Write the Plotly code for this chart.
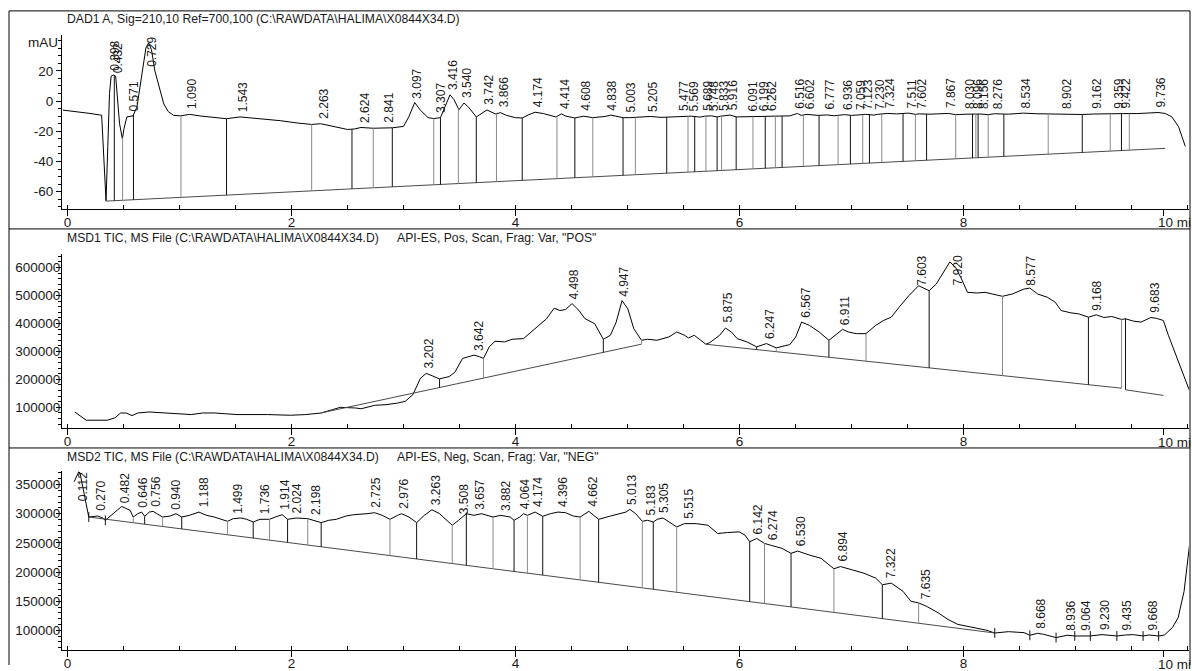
import numpy as np
import plotly.graph_objects as go

W, H = 1192, 671

# ---------------- DAD1 A (mAU) ----------------
dad_t = [-0.04, 0.10, 0.20, 0.305, 0.325, 0.344, 0.360, 0.375, 0.39, 0.41, 0.43, 0.445, 0.465, 0.49,
         0.505, 0.53, 0.56, 0.585, 0.62, 0.66, 0.70, 0.725, 0.75, 0.78, 0.82, 0.86, 0.90, 0.95, 1.01,
         1.09, 1.20, 1.30, 1.42, 1.54, 1.70, 1.90, 2.05, 2.18, 2.26, 2.35, 2.50, 2.56, 2.62, 2.73, 2.90,
         3.00, 3.05, 3.10, 3.15, 3.22, 3.27, 3.33, 3.38, 3.415, 3.45, 3.495, 3.54, 3.58, 3.65, 3.70,
         3.745, 3.79, 3.82, 3.866, 3.92, 4.00, 4.06, 4.12, 4.175, 4.25, 4.36, 4.41, 4.45, 4.53, 4.608,
         4.69, 4.80, 4.85, 4.96, 5.02, 5.10, 5.205, 5.30, 5.40, 5.477, 5.569, 5.65, 5.689, 5.748, 5.80,
         5.833, 5.916, 5.97, 6.091, 6.199, 6.262, 6.36, 6.45, 6.516, 6.55, 6.602, 6.70, 6.777, 6.85,
         6.936, 7.00, 7.059, 7.123, 7.20, 7.230, 7.324, 7.40, 7.511, 7.57, 7.602, 7.70, 7.867, 7.93,
         8.030, 8.096, 8.156, 8.22, 8.276, 8.40, 8.534, 8.65, 8.80, 8.902, 9.06, 9.162, 9.30, 9.359,
         9.422, 9.55, 9.65, 9.736, 9.80, 9.86, 9.92, 9.98]
dad_v = [-6.0, -7.0, -8.2, -9.4, -40, -66, -30, 5, 16.5, 17.2, 16.5, 5, -15, -25,
         -18, -10.5, -10, -9.8, -4, 15, 35, 38.5, 34, 20, 8, -2, -7, -9.5, -9.8,
         -8.8, -10, -10.8, -11.7, -10.5, -11.5, -13, -14.5, -15.5, -15, -16.5, -18.8, -18.5, -17.5, -18, -17.7,
         -16.8, -10, -1, -6, -11, -11.6, -11, -2, 4.1, 1, -5.7, -1.3, -4, -10.5, -8,
         -5.9, -7.5, -8.5, -7.7, -9.5, -11, -11.2, -9, -7.4, -8.3, -10.5, -8.5, -10, -11.2, -10,
         -11, -10.2, -9.3, -11, -11, -10.8, -10.2, -10.8, -10.5, -10, -10, -10.6, -10, -9.8, -10.5,
         -10, -9.3, -10.5, -10.4, -10.2, -10, -10, -9.8, -8.2, -9.5, -8.8, -9.5, -9.2, -9.7,
         -9, -9.5, -9.2, -8.8, -9.3, -8.8, -8.2, -8.5, -8, -8.8, -8.5, -8.7, -8.2, -9,
         -8.7, -8.4, -8.6, -9, -8.4, -8.7, -8.0, -8.4, -8.6, -8.8, -8.9, -8.6, -8.7, -8.5,
         -8.3, -8.3, -7.8, -7.6, -8.2, -10.5, -17, -30]
dad_base_t = [0.344, 9.80]
dad_base_v = [-66.2, -31.3]
dad_drops = [0.418, 0.492, 0.589, 1.013, 1.42, 2.18, 2.54, 2.73, 2.90, 3.27, 3.33, 3.49, 3.65, 3.83,
             4.06, 4.37, 4.53, 4.69, 4.96, 5.07, 5.35, 5.54, 5.60, 5.70, 5.80, 5.84, 5.97, 6.12, 6.23,
             6.32, 6.38, 6.57, 6.71, 6.88, 6.99, 7.10, 7.16, 7.27, 7.46, 7.57, 7.67, 7.93, 8.08, 8.11,
             8.13, 8.22, 8.36, 8.756, 9.06, 9.31, 9.41, 9.48]
dad_peaks = [0.398, 0.432, 0.571, 0.729, 1.090, 1.543, 2.263, 2.624, 2.841, 3.097, 3.307, 3.416, 3.540,
             3.742, 3.866, 4.174, 4.414, 4.608, 4.838, 5.003, 5.205, 5.477, 5.569, 5.689, 5.748, 5.833,
             5.916, 6.091, 6.199, 6.262, 6.516, 6.602, 6.777, 6.936, 7.059, 7.123, 7.230, 7.324, 7.511,
             7.602, 7.867, 8.030, 8.096, 8.156, 8.276, 8.534, 8.902, 9.162, 9.359, 9.422, 9.736]

# ---------------- MSD1 TIC (POS) ----------------
msd1_t = [0.065, 0.167, 0.355, 0.423, 0.474, 0.525, 0.576, 0.628, 0.73, 0.866, 1.037, 1.105, 1.207,
          1.31, 1.412, 1.514, 1.787, 1.992, 2.128, 2.265, 2.367, 2.435, 2.572, 2.623, 2.742, 2.844,
          2.947, 3.015, 3.083, 3.151, 3.203, 3.254, 3.322, 3.407, 3.458, 3.527, 3.629, 3.68, 3.714,
          3.765, 3.817, 3.902, 3.97, 4.072, 4.175, 4.277, 4.345, 4.396, 4.447, 4.505, 4.567, 4.618,
          4.707, 4.784, 4.847, 4.899, 4.951, 5.003, 5.056, 5.125, 5.178, 5.265, 5.369, 5.439, 5.509,
          5.544, 5.596, 5.666, 5.70, 5.735, 5.822, 5.875, 5.927, 5.979, 6.066, 6.153, 6.24, 6.328,
          6.449, 6.502, 6.554, 6.624, 6.711, 6.798, 6.868, 6.92, 6.972, 7.042, 7.129, 7.216, 7.286,
          7.355, 7.425, 7.512, 7.599, 7.693, 7.756, 7.826, 7.878, 7.93, 7.983, 8.035, 8.122, 8.192,
          8.261, 8.348, 8.436, 8.54, 8.592, 8.662, 8.749, 8.819, 8.871, 8.958, 9.028, 9.115, 9.185,
          9.254, 9.324, 9.411, 9.446, 9.516, 9.585, 9.672, 9.725, 9.784, 9.829, 10.031]
msd1_v = [83400, 53900, 53900, 62100, 79800, 79500, 70400, 79800, 83400, 79800, 76300, 74100, 79800,
          79800, 77000, 74100, 74100, 71700, 74100, 79800, 91800, 100000, 97600, 95000, 107100, 109500,
          115300, 121300, 144900, 203900, 221600, 213500, 201800, 209900, 225200, 274900, 286800, 280900, 274900,
          316300, 336500, 334000, 343600, 345900, 381300, 416800, 454600, 446400, 450000, 471100, 446300, 418000,
          399000, 343600, 357700, 405000, 481800, 452300, 381300, 339900, 343600, 339900, 351800, 369500, 358000,
          348200, 357700, 334000, 325700, 331600, 357700, 383700, 369500, 345900, 334000, 316300, 328100, 312800,
          324500, 351800, 405000, 393200, 369500, 339900, 363600, 378900, 369500, 363600, 363600, 393200, 410800,
          422700, 458200, 499700, 535000, 517300, 540900, 584700, 620200, 600000, 558700, 511400, 509000, 511400,
          505500, 497200, 505500, 523200, 526700, 505500, 493600, 475900, 446300, 438000, 434500, 422700, 430900,
          421500, 425000, 414400, 416800, 408500, 405000, 421500, 418000, 410800, 357700, 145300]
msd1_base_t = [2.265, 5.125, None, 5.70, 9.411, None, 9.446, 9.784]
msd1_base_v = [80000, 326000, None, 325700, 168400, None, 162700, 142600]
msd1_drops = [3.322, 3.714, 4.784, 5.125, 6.153, 6.328, 6.798, 7.129, 7.693, 8.348, 9.115, 9.411, 9.446]
msd1_peaks = [3.202, 3.642, 4.498, 4.947, 5.875, 6.247, 6.567, 6.911, 7.603, 7.920, 8.577, 9.168, 9.683]

# ---------------- MSD2 TIC (NEG) ----------------
msd2_t = [0.06, 0.10, 0.112, 0.15, 0.19, 0.269, 0.314, 0.338, 0.389, 0.44, 0.484, 0.559, 0.587, 0.628,
          0.662, 0.689, 0.73, 0.764, 0.849, 0.917, 0.969, 1.02, 1.088, 1.173, 1.241, 1.31, 1.429, 1.48,
          1.548, 1.6, 1.658, 1.719, 1.804, 1.855, 1.917, 1.965, 2.043, 2.145, 2.196, 2.265, 2.333, 2.401,
          2.486, 2.555, 2.674, 2.742, 2.81, 2.879, 2.947, 2.981, 3.049, 3.117, 3.186, 3.254, 3.322, 3.39,
          3.435, 3.492, 3.561, 3.629, 3.697, 3.799, 3.868, 3.953, 3.987, 4.038, 4.072, 4.106, 4.175, 4.243,
          4.311, 4.379, 4.447, 4.516, 4.577, 4.655, 4.742, 4.847, 4.986, 5.021, 5.073, 5.132, 5.178, 5.23,
          5.265, 5.317, 5.369, 5.439, 5.509, 5.613, 5.718, 5.805, 5.892, 5.997, 6.049, 6.091, 6.153, 6.223,
          6.275, 6.38, 6.46, 6.519, 6.624, 6.728, 6.843, 6.902, 7.007, 7.111, 7.216, 7.275, 7.355, 7.46,
          7.53, 7.599, 7.669, 7.774, 7.861, 7.948, 8.052, 8.122, 8.209, 8.279, 8.401, 8.54, 8.592, 8.662,
          8.714, 8.826, 8.923, 8.993, 9.132, 9.237, 9.369, 9.446, 9.516, 9.603, 9.655, 9.742, 9.794, 9.864,
          9.916, 9.969, 10.021]
msd2_v = [355000, 372000, 370000, 330000, 294400, 296100, 292700, 288800, 297300, 306000, 312600, 305800, 294400, 300100,
          302900, 295600, 302900, 304100, 294400, 296100, 300100, 294400, 297300, 302900, 297300, 294400, 287100, 291600,
          292700, 290500, 285900, 290500, 290500, 294400, 298400, 290500, 292700, 291600, 288800, 284800, 288800, 290500,
          296100, 298400, 300100, 301800, 297300, 290500, 297300, 300100, 294400, 284800, 297300, 306900, 300100, 288800,
          280300, 288800, 300100, 297300, 300100, 294400, 297300, 294400, 288800, 294400, 300100, 297300, 302900, 295600,
          300100, 302900, 301800, 296100, 294400, 304100, 290500, 296100, 302900, 307500, 300100, 287100, 288800, 285900,
          290500, 292700, 285900, 277400, 283100, 283100, 280300, 266100, 267800, 268900, 263300, 251900, 257600, 249100,
          246200, 240600, 232100, 236000, 229200, 223500, 205600, 209400, 203700, 198000, 189500, 178200, 181000, 166900,
          149900, 147000, 141300, 130000, 118700, 110200, 106200, 103400, 100000, 95400, 97700, 96000, 91500, 94900,
          93200, 87500, 91500, 90300, 90300, 92600, 90300, 92000, 92600, 90300, 92000, 90300, 92000, 104500,
          121500, 166900, 251900]
msd2_base_t = [0.19, 8.279]
msd2_base_v = [294400, 95400]
msd2_drops = [0.338, 0.587, 0.689, 0.849, 1.02, 1.429, 1.658, 1.804, 1.965, 2.145, 2.265, 2.879, 3.117,
              3.435, 3.561, 3.799, 3.987, 4.106, 4.243, 4.577, 4.742, 5.132, 5.23, 5.439, 6.091, 6.223,
              6.46, 6.843, 7.275, 7.599]
msd2_marks = [0.19, 0.338, 8.279, 8.592, 8.826, 8.993, 9.132, 9.369, 9.603, 9.742]
msd2_peaks = [0.112, 0.270, 0.482, 0.646, 0.756, 0.940, 1.188, 1.499, 1.736, 1.914, 2.024, 2.198, 2.725,
              2.976, 3.263, 3.508, 3.657, 3.882, 4.064, 4.174, 4.396, 4.662, 5.013, 5.183, 5.305, 5.515,
              6.142, 6.274, 6.530, 6.894, 7.322, 7.635, 8.668, 8.936, 9.064, 9.230, 9.435, 9.668]

# axis labels / titles
x_tick_vals = [0, 2, 4, 6, 8]
x_end_tick = 9.786
x_end_label = "10 mi"
dad_yticks = [-60, -40, -20, 0, 20]
msd1_yticks = [100000, 200000, 300000, 400000, 500000, 600000]
msd2_yticks = [100000, 150000, 200000, 250000, 300000, 350000]
titles_left = ["DAD1 A, Sig=210,10 Ref=700,100 (C:\\RAWDATA\\HALIMA\\X0844X34.D)",
               "MSD1 TIC, MS File (C:\\RAWDATA\\HALIMA\\X0844X34.D)",
               "MSD2 TIC, MS File (C:\\RAWDATA\\HALIMA\\X0844X34.D)"]
titles_right = ["", 'API-ES, Pos, Scan, Frag: Var, "POS"', 'API-ES, Neg, Scan, Frag: Var, "NEG"']

# ---------------- layout geometry (pixels) ----------------
FONT = "Arial, Liberation Sans, sans-serif"
TXT = "#1a1a1a"
X_LEFT, X_RIGHT = 62, 1189
XR = [-0.049, 10.013]
panels = [
    dict(t=dad_t, v=dad_v, bt=dad_base_t, bv=dad_base_v, drops=dad_drops, peaks=dad_peaks, marks=[],
         top=35, bot=211, rng=[-71.5, 43.9], yt=dad_yticks, minor=5, stand=0, title_py=19, sep_py=11),
    dict(t=msd1_t, v=msd1_v, bt=msd1_base_t, bv=msd1_base_v, drops=msd1_drops, peaks=msd1_peaks, marks=[],
         top=256, bot=432, rng=[25550, 649600], yt=msd1_yticks, minor=20000, stand=-7, title_py=240, sep_py=231),
    dict(t=msd2_t, v=msd2_v, bt=msd2_base_t, bv=msd2_base_v, drops=msd2_drops, peaks=msd2_peaks, marks=msd2_marks,
         top=475, bot=656, rng=[66000, 373800], yt=msd2_yticks, minor=10000, stand=-7, title_py=461, sep_py=452),
]


def base_at(t, bt, bv):
    for i in range(len(bt) - 1):
        a, b = bt[i], bt[i + 1]
        if a is None or b is None:
            continue
        if a - 1e-9 <= t <= b + 1e-9:
            return bv[i] + (bv[i + 1] - bv[i]) * (t - a) / (b - a)
    return None


fig = go.Figure()
annotations = []
shapes = []

for k, p in enumerate(panels):
    n = k + 1
    xa = "x" if n == 1 else f"x{n}"
    ya = "y" if n == 1 else f"y{n}"
    # signal
    fig.add_trace(go.Scatter(x=p["t"], y=p["v"], mode="lines", xaxis=xa, yaxis=ya,
                             line=dict(color="#000", width=1), hoverinfo="skip", showlegend=False))
    # baseline
    fig.add_trace(go.Scatter(x=p["bt"], y=p["bv"], mode="lines", xaxis=xa, yaxis=ya, connectgaps=False,
                             line=dict(color="#4a4a4a", width=1), hoverinfo="skip", showlegend=False))
    # drop lines
    for j, col in enumerate(["#111", "#8a8a8a"]):
        dx, dy = [], []
        for i, t in enumerate(p["drops"]):
            if i % 2 != j:
                continue
            b = base_at(t, p["bt"], p["bv"])
            if b is None:
                continue
            s = float(np.interp(t, p["t"], p["v"]))
            dx += [t, t, None]
            dy += [s, b, None]
        fig.add_trace(go.Scatter(x=dx, y=dy, mode="lines", xaxis=xa, yaxis=ya,
                                 line=dict(color=col, width=1), hoverinfo="skip", showlegend=False))
    if p["marks"]:
        fig.add_trace(go.Scatter(x=p["marks"], y=[float(np.interp(t, p["t"], p["v"])) for t in p["marks"]],
                                 mode="markers", xaxis=xa, yaxis=ya,
                                 marker=dict(symbol="line-ns", size=7, line=dict(color="#111", width=1)),
                                 hoverinfo="skip", showlegend=False))
    # peak labels
    ppu = (p["bot"] - p["top"]) / (p["rng"][1] - p["rng"][0])
    for rt in p["peaks"]:
        txt = f"{rt:.3f}"
        s = float(np.interp(rt, p["t"], p["v"]))
        lab_h = 31
        gap = 4
        if (p["rng"][1] - s) * ppu < gap + lab_h + 2:
            annotations.append(dict(x=rt, y=p["rng"][1], xref=xa, yref=ya, text=txt, textangle=-90,
                                    showarrow=False, xanchor="center", yanchor="top", xshift=3, yshift=-1,
                                    borderpad=0, font=dict(family=FONT, size=12, color=TXT)))
        else:
            annotations.append(dict(x=rt, y=s, xref=xa, yref=ya, text=txt, textangle=-90,
                                    showarrow=False, xanchor="center", yanchor="bottom", xshift=3, yshift=gap,
                                    borderpad=0, font=dict(family=FONT, size=12, color=TXT)))
    # axes
    dom_y = [1 - p["bot"] / H, 1 - p["top"] / H]
    fig.layout[("xaxis" if n == 1 else f"xaxis{n}")] = dict(
        domain=[X_LEFT / W, X_RIGHT / W], range=XR, anchor=ya, showline=True, linecolor="#000", linewidth=1,
        showgrid=False, zeroline=False, tickmode="array", tickvals=x_tick_vals + [x_end_tick],
        ticktext=[str(v) for v in x_tick_vals] + [""], ticks="outside", ticklen=6, tickcolor="#000",
        ticklabelstandoff=-5,
        tickfont=dict(family=FONT, size=13.5, color=TXT),
        minor=dict(tickmode="linear", tick0=0, dtick=0.5, ticks="inside", ticklen=4, tickcolor="#000"),
        fixedrange=True)
    fig.layout[("yaxis" if n == 1 else f"yaxis{n}")] = dict(
        domain=dom_y, range=p["rng"], anchor=xa, showline=True, linecolor="#000", linewidth=1,
        showgrid=False, zeroline=False, tickmode="array", tickvals=p["yt"], ticktext=[str(v) for v in p["yt"]],
        ticks="outside", ticklen=5, tickcolor="#000", ticklabelstandoff=p["stand"],
        tickfont=dict(family=FONT, size=13.5, color=TXT),
        minor=dict(tickmode="linear", tick0=0, dtick=p["minor"], ticks="outside", ticklen=3, tickcolor="#000"),
        fixedrange=True)
    # "10 mi" end label
    annotations.append(dict(x=1192 / W, y=1 - (p["bot"] + 14) / H, xref="paper", yref="paper", text=x_end_label,
                            showarrow=False, xanchor="right", yanchor="middle", borderpad=0,
                            font=dict(family=FONT, size=13.5, color=TXT)))
    # titles
    annotations.append(dict(x=66 / W, y=1 - p["title_py"] / H, xref="paper", yref="paper", text=titles_left[k],
                            showarrow=False, xanchor="left", yanchor="middle", borderpad=0,
                            font=dict(family=FONT, size=12.2, color=TXT)))
    if titles_right[k]:
        annotations.append(dict(x=396 / W, y=1 - p["title_py"] / H, xref="paper", yref="paper",
                                text=titles_right[k], showarrow=False, xanchor="left", yanchor="middle",
                                borderpad=0, font=dict(family=FONT, size=12.2, color=TXT)))
    # separator line
    shapes.append(dict(type="line", xref="paper", yref="paper", x0=9 / W, x1=1190 / W,
                       y0=1 - p["sep_py"] / H, y1=1 - p["sep_py"] / H, line=dict(color="#000", width=1)))

annotations.append(dict(x=60 / W, y=1 - 43 / H, xref="paper", yref="paper", text="mAU", showarrow=False,
                        xanchor="right", yanchor="middle", font=dict(family=FONT, size=13.5, color=TXT)))
shapes.append(dict(type="line", xref="paper", yref="paper", x0=9 / W, x1=9 / W, y0=0, y1=1 - 11 / H,
                   line=dict(color="#000", width=1)))
shapes.append(dict(type="line", xref="paper", yref="paper", x0=1190 / W, x1=1190 / W, y0=0, y1=1 - 11 / H,
                   line=dict(color="#000", width=1)))

fig.update_layout(width=W, height=H, margin=dict(l=0, r=0, t=0, b=0), paper_bgcolor="white",
                  plot_bgcolor="white", annotations=annotations, shapes=shapes, showlegend=False)

fig.write_html("out.html", config={"displayModeBar": False, "staticPlot": True},
               post_script="document.body.style.margin='0';document.body.style.overflow='hidden';")
